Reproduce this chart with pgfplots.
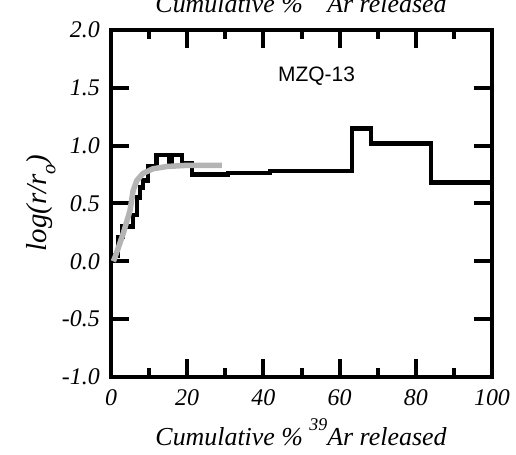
\documentclass[border=0pt]{standalone}
\usepackage{pgfplots}
\pgfplotsset{compat=1.18}
\usepackage{fontspec}
\setmainfont{Liberation Serif}
\newfontfamily\arial{Liberation Sans}
\definecolor{lgrey}{RGB}{180,180,180}
\newcommand\tl[1]{{\fontsize{24}{24}\selectfont\itshape #1}}
\begin{document}
\begin{tikzpicture}
\begin{axis}[
  at={(111bp,78bp)}, anchor=south west,
  scale only axis, width=381bp, height=347bp,
  xmin=0, xmax=100, ymin=-1, ymax=2,
  xtick={0,20,40,60,80,100},
  xticklabels={\tl{0},\tl{20},\tl{40},\tl{60},\tl{80},\tl{100}},
  minor x tick num=1,
  ytick={-1,-0.5,0,0.5,1,1.5,2},
  yticklabels={\tl{-1.0},\tl{-0.5},\tl{0.0},\tl{0.5},\tl{1.0},\tl{1.5},\tl{2.0}},
  tick align=inside, tick pos=both,
  major tick length=18bp, minor tick length=9bp,
  tick style={line width=4bp, black},
  axis line style={line width=4bp},
  xticklabel style={inner sep=0pt, anchor=north, yshift=-12bp},
  yticklabel style={inner sep=0pt, anchor=east, xshift=-11bp},
  clip=true,
]
\addplot[const plot, black, line width=4.5bp, line join=miter] coordinates {
(0.3,0.05) (1.8,0.21) (3.0,0.30) (5.8,0.40) (6.8,0.55) (7.6,0.64) (8.4,0.70)
(9.7,0.82) (12.0,0.92) (15.3,0.86) (16.0,0.92) (18.6,0.85) (21.2,0.75)
(30.7,0.765) (41.7,0.78) (63.3,1.15) (68.2,1.02) (84.0,0.68) (100,0.68)
};
\addplot[lgrey, line width=5.5bp, line join=round] coordinates {
(0.6,0.0) (1.0,0.03) (3.2,0.24) (5.0,0.44) (5.8,0.61) (6.8,0.70) (8.4,0.76)
(11.0,0.80) (14.7,0.82) (20.0,0.83) (29.1,0.83)
};
\end{axis}
\node[anchor=base west, inner sep=0pt, font=\arial\fontsize{21}{21}\selectfont] at (278bp,373bp) {MZQ-13};
\node[anchor=base, inner sep=0pt, font=\fontsize{26}{26}\selectfont\itshape] at (301bp,442bp)
  {Cumulative \% \raisebox{0.55em}{\fontsize{18}{18}\selectfont 39}Ar released};
\node[anchor=base, inner sep=0pt, font=\fontsize{26}{26}\selectfont\itshape] at (301bp,10bp)
  {Cumulative \% \raisebox{0.55em}{\fontsize{18}{18}\selectfont 39}Ar released};
\node[rotate=90, anchor=center, inner sep=0pt, font=\fontsize{29}{29}\selectfont\itshape] at (41bp,252bp)
  {log(r/r\raisebox{-0.3em}{\fontsize{20}{20}\selectfont o})};
\pgfresetboundingbox
\useasboundingbox (0,0) rectangle (516bp,455bp);
\end{tikzpicture}
\end{document}
